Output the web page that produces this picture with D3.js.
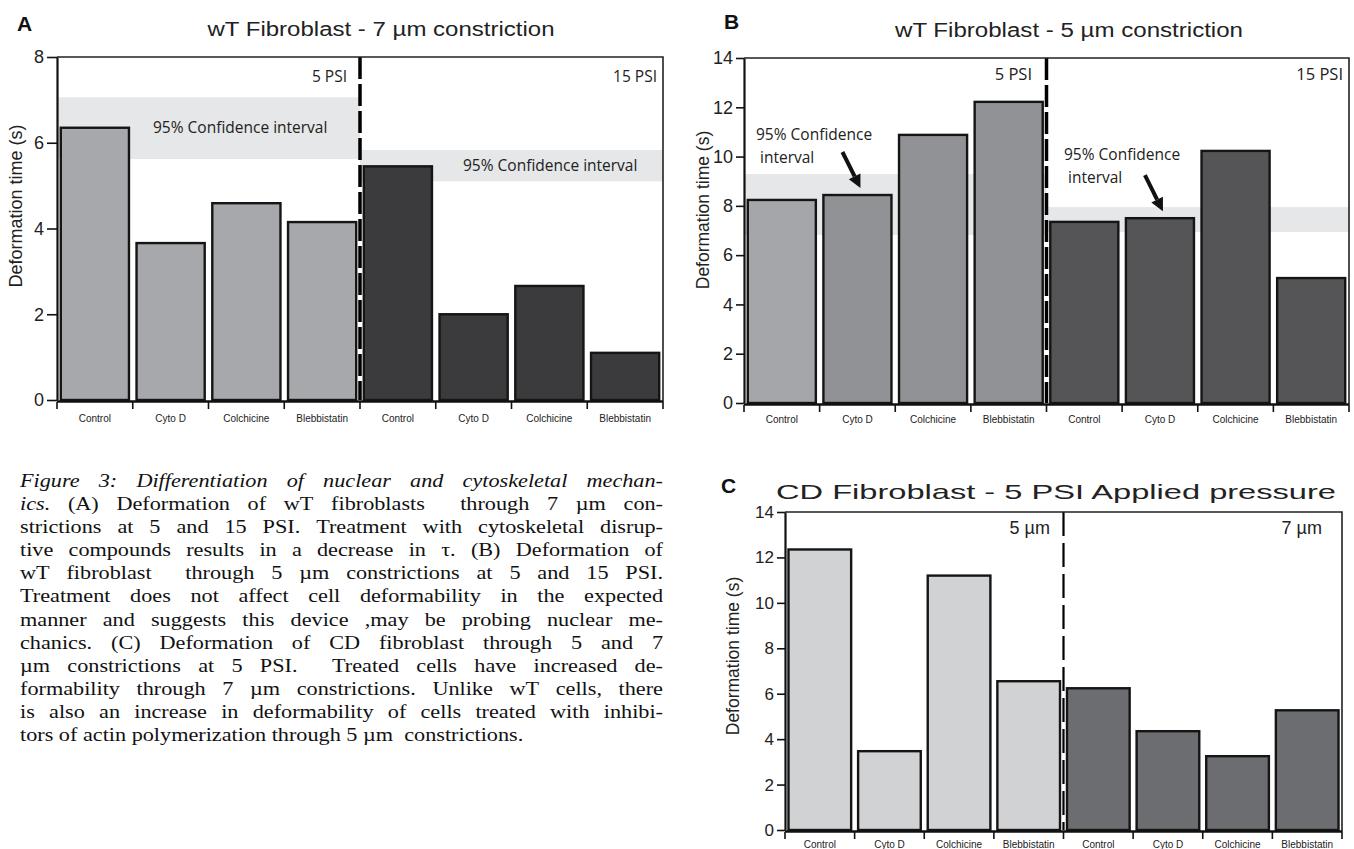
<!DOCTYPE html>
<html>
<head>
<meta charset="utf-8">
<script src="https://cdn.jsdelivr.net/npm/d3@7"></script>
<style>
  body { margin: 0; background: #fff; }
  svg { display: block; }
</style>
</head>
<body>
<svg id="fig" width="1354" height="849"></svg>
<script>
'use strict';

// ---- data ----
var categories = ['Control', 'Cyto D', 'Colchicine', 'Blebbistatin'];

var groupsA = ['5 PSI', '15 PSI'];
var valuesA5 = [6.35, 3.66, 4.59, 4.15];
var valuesA15 = [5.45, 2.0, 2.66, 1.1];
var ciA5 = [5.62, 7.06];
var ciA15 = [5.10, 5.83];
var ticksA = [0, 2, 4, 6, 8];

var groupsB = ['5 PSI', '15 PSI'];
var valuesB5 = [8.24, 8.44, 10.88, 12.22];
var valuesB15 = [7.35, 7.5, 10.23, 5.07];
var ciB5 = [6.82, 9.29];
var ciB15 = [6.94, 7.95];
var ticksB = [0, 2, 4, 6, 8, 10, 12, 14];

var groupsC = ['5 µm', '7 µm'];
var valuesC5 = [12.35, 3.47, 11.2, 6.55];
var valuesC7 = [6.24, 4.35, 3.25, 5.27];
var ticksC = [0, 2, 4, 6, 8, 10, 12, 14];

var captionLines = [
  { t: 'Figure 3: Differentiation of nuclear and cytoskeletal mechan-', it: 99 },
  { t: 'ics. (A) Deformation of wT fibroblasts  through 7 µm con-', it: 1 },
  { t: 'strictions at 5 and 15 PSI. Treatment with cytoskeletal disrup-', it: 0 },
  { t: 'tive compounds results in a decrease in τ. (B) Deformation of', it: 0 },
  { t: 'wT fibroblast  through 5 µm constrictions at 5 and 15 PSI.', it: 0 },
  { t: 'Treatment does not affect cell deformability in the expected', it: 0 },
  { t: 'manner and suggests this device ,may be probing nuclear me-', it: 0 },
  { t: 'chanics. (C) Deformation of CD fibroblast through 5 and 7', it: 0 },
  { t: 'µm constrictions at 5 PSI.  Treated cells have increased de-', it: 0 },
  { t: 'formability through 7 µm constrictions. Unlike wT cells, there', it: 0 },
  { t: 'is also an increase in deformability of cells treated with inhibi-', it: 0 },
  { t: 'tors of actin polymerization through 5 µm  constrictions.', it: 0 }
];

var SANS = '"Liberation Sans", Arial, sans-serif';
var HUMAN = '"Open Sans", "Noto Sans", sans-serif';
var SERIF = '"Liberation Serif", "Times New Roman", serif';

var svg = d3.select('#fig');

var panels = [
  {
    letter: 'A', lx: 17, ly: 31,
    title: 'wT Fibroblast - 7 µm constriction', tx: 381, ty: 36, tw: 347, ts: 20,
    left: 57, right: 663, top: 57, y0: 400, ymax: 8, ticks: ticksA, tickSize: 10, tickFont: 18,
    ylab: [16, 206], ylabSize: 18,
    groups: groupsA, values: [valuesA5, valuesA15], ci: [ciA5, ciA15],
    fill: function (g, i) { return g === 0 ? '#a7a8ab' : '#3b3b3d'; },
    groupLabelRight: [347, 657], groupLabelY: 82, groupFont: HUMAN, groupSize: 15.5,
    dash: { w: 3.5, a: '22,5' },
    notes: [
      { lines: ['95% Confidence interval'], x: 153, y: 133 },
      { lines: ['95% Confidence interval'], x: 463, y: 171 }
    ],
    arrows: [],
    labY: 22
  },
  {
    letter: 'B', lx: 724, ly: 29,
    title: 'wT Fibroblast - 5 µm constriction', tx: 1069, ty: 37, tw: 348, ts: 20,
    left: 744, right: 1349, top: 58, y0: 403, ymax: 14, ticks: ticksB, tickSize: 8, tickFont: 18,
    ylab: [703, 210], ylabSize: 17.5,
    groups: groupsB, values: [valuesB5, valuesB15], ci: [ciB5, ciB15],
    fill: function (g, i) { return g === 0 ? (i === 0 ? '#a5a6a9' : '#919295') : '#555557'; },
    groupLabelRight: [1032, 1343], groupLabelY: 80, groupFont: HUMAN, groupSize: 16.5,
    dash: { w: 3.5, a: '22,5' },
    notes: [
      { lines: ['95% Confidence', 'interval'], x: 756, y: 140 },
      { lines: ['95% Confidence', 'interval'], x: 1064, y: 160 }
    ],
    arrows: [{ g: 0, i: 1 }, { g: 1, i: 1 }],
    labY: 20
  },
  {
    letter: 'C', lx: 721, ly: 493,
    title: 'CD Fibroblast - 5 PSI Applied pressure', tx: 1056, ty: 499, tw: 560, ts: 21,
    left: 785, right: 1342, top: 512, y0: 830, ymax: 14, ticks: ticksC, tickSize: 8, tickFont: 17,
    ylab: [733, 656], ylabSize: 17.5,
    groups: groupsC, values: [valuesC5, valuesC7], ci: null,
    fill: function (g, i) { return g === 0 ? '#d1d2d4' : '#6c6d70'; },
    groupLabelRight: [1050, 1322], groupLabelY: 534, groupFont: SANS, groupSize: 18,
    dash: { w: 2.2, a: '24,7' },
    notes: [],
    arrows: [],
    labY: 18
  }
];

panels.forEach(drawPanel);
drawCaption();

function drawPanel(p) {
  var g = svg.append('g');
  var keys = [];
  var rows = [];
  p.groups.forEach(function (grp, gi) {
    categories.forEach(function (c, ci) {
      keys.push(grp + '|' + c);
      rows.push({ key: grp + '|' + c, cat: c, g: gi, i: ci, v: p.values[gi][ci] });
    });
  });

  var x = d3.scaleBand().domain(keys).range([p.left, p.right])
    .paddingInner(0.1).paddingOuter(0.05);
  var y = d3.scaleLinear().domain([0, p.ymax]).range([p.y0, p.top]);
  var edge = function (k) { return x(k) - x.step() * 0.05; };
  var groupStart = function (gi) { return edge(p.groups[gi] + '|' + categories[0]); };
  var groupEnd = function (gi) {
    return gi + 1 < p.groups.length ? groupStart(gi + 1) : p.right;
  };

  // confidence interval bands
  if (p.ci) {
    g.selectAll('rect.ci').data(p.ci).enter().append('rect')
      .attr('class', 'ci')
      .attr('x', function (d, gi) { return groupStart(gi); })
      .attr('width', function (d, gi) { return groupEnd(gi) - groupStart(gi); })
      .attr('y', function (d) { return y(d[1]); })
      .attr('height', function (d) { return y(d[0]) - y(d[1]); })
      .attr('fill', '#e6e7e8');
  }

  // bars
  g.selectAll('rect.bar').data(rows).enter().append('rect')
    .attr('class', 'bar')
    .attr('x', function (d) { return x(d.key); })
    .attr('width', x.bandwidth())
    .attr('y', function (d) { return y(d.v); })
    .attr('height', function (d) { return y(0) - y(d.v); })
    .attr('fill', function (d) { return p.fill(d.g, d.i); })
    .attr('stroke', '#151515')
    .attr('stroke-width', 2.4);

  // dashed separator
  var sep = groupStart(1);
  g.append('line')
    .attr('x1', sep).attr('x2', sep)
    .attr('y1', p.top).attr('y2', p.y0)
    .attr('stroke', '#000').attr('stroke-width', p.dash.w)
    .attr('stroke-dasharray', p.dash.a);

  // frame (top and right)
  g.append('path')
    .attr('d', 'M' + p.left + ',' + p.top + 'H' + p.right + 'V' + (p.y0 + 2))
    .attr('fill', 'none').attr('stroke', '#222').attr('stroke-width', 1.6);

  // y axis
  var ya = g.append('g').attr('transform', 'translate(' + p.left + ',0)')
    .call(d3.axisLeft(y).tickValues(p.ticks).tickSize(p.tickSize).tickSizeOuter(0).tickPadding(3));
  ya.select('.domain').attr('stroke', '#111').attr('stroke-width', 2.2);
  ya.selectAll('.tick line').attr('stroke', '#111').attr('stroke-width', 1.6);
  ya.selectAll('.tick text').attr('font-family', SANS).attr('font-size', p.tickFont)
    .attr('fill', '#222');

  // x axis: line, ticks on band edges, labels in band centres
  g.append('line')
    .attr('x1', p.left).attr('x2', p.right)
    .attr('y1', p.y0 + 1.5).attr('y2', p.y0 + 1.5)
    .attr('stroke', '#111').attr('stroke-width', 2.6);
  var edges = keys.map(edge).concat([p.right]);
  g.selectAll('line.xt').data(edges).enter().append('line')
    .attr('class', 'xt')
    .attr('x1', function (d) { return d; }).attr('x2', function (d) { return d; })
    .attr('y1', p.y0 + 2).attr('y2', p.y0 + 9)
    .attr('stroke', '#111').attr('stroke-width', 1.6);
  g.selectAll('text.xl').data(rows).enter().append('text')
    .attr('class', 'xl')
    .attr('x', function (d) { return x(d.key) + x.bandwidth() / 2; })
    .attr('y', p.y0 + p.labY)
    .attr('text-anchor', 'middle')
    .attr('font-family', SANS).attr('font-size', 10).attr('fill', '#222')
    .text(function (d) { return d.cat; });

  // y label
  g.append('text')
    .attr('transform', 'translate(' + p.ylab[0] + ',' + p.ylab[1] + ') rotate(-90)')
    .attr('text-anchor', 'middle').attr('dy', '0.35em')
    .attr('font-family', SANS).attr('font-size', p.ylabSize).attr('fill', '#222')
    .text('Deformation time (s)');

  // title + panel letter
  g.append('text').attr('x', p.tx).attr('y', p.ty).attr('text-anchor', 'middle')
    .attr('font-family', SANS).attr('font-size', p.ts).attr('fill', '#222')
    .attr('textLength', p.tw).attr('lengthAdjust', 'spacingAndGlyphs')
    .text(p.title);
  g.append('text').attr('x', p.lx).attr('y', p.ly)
    .attr('font-family', SANS).attr('font-weight', 'bold').attr('font-size', 21)
    .attr('fill', '#111').text(p.letter);

  // group labels
  p.groups.forEach(function (grp, gi) {
    g.append('text').attr('x', p.groupLabelRight[gi]).attr('y', p.groupLabelY)
      .attr('text-anchor', 'end')
      .attr('font-family', p.groupFont).attr('font-size', p.groupSize).attr('fill', '#222')
      .text(grp);
  });

  // confidence interval notes
  p.notes.forEach(function (n) {
    n.lines.forEach(function (l, li) {
      g.append('text').attr('x', n.x + (li ? 4 : 0)).attr('y', n.y + li * 23)
        .attr('font-family', HUMAN).attr('font-size', 15.5).attr('fill', '#222')
        .text(l);
    });
  });

  // arrows pointing at bars
  p.arrows.forEach(function (a) {
    var k = p.groups[a.g] + '|' + categories[a.i];
    var tipX = x(k) + x.bandwidth() / 2 + 3;
    var tipY = y(p.values[a.g][a.i]) - 7;
    var sx = tipX - 18, sy = tipY - 36;
    var ang = Math.atan2(tipY - sy, tipX - sx);
    var hl = 13, hw = 6.5;
    var bx = tipX - hl * Math.cos(ang), by = tipY - hl * Math.sin(ang);
    g.append('line').attr('x1', sx).attr('y1', sy).attr('x2', bx).attr('y2', by)
      .attr('stroke', '#111').attr('stroke-width', 4);
    g.append('path')
      .attr('d', 'M' + tipX + ',' + tipY +
        'L' + (bx + hw * Math.sin(ang)) + ',' + (by - hw * Math.cos(ang)) +
        'L' + (bx - hw * Math.sin(ang)) + ',' + (by + hw * Math.cos(ang)) + 'Z')
      .attr('fill', '#111');
  });
}

// justified caption; the source face is a bit wider than Times, so stretch x
function drawCaption() {
  var left = 20, right = 663, base = 487, lead = 23.1, size = 19.5, sx = 1.14;
  var width = (right - left) / sx;
  var cg = svg.append('g').attr('transform', 'translate(' + left + ',0) scale(' + sx + ',1)');
  captionLines.forEach(function (line, li) {
    var words = line.t.split(' ');
    var nodes = words.map(function (w, wi) {
      return cg.append('text')
        .attr('y', base + li * lead)
        .attr('font-family', SERIF).attr('font-size', size).attr('fill', '#111')
        .attr('font-style', wi < line.it ? 'italic' : 'normal')
        .text(w);
    });
    var widths = nodes.map(function (n) { return n.node().getComputedTextLength(); });
    var total = d3.sum(widths);
    var last = li === captionLines.length - 1;
    var gap = last ? size * 0.25 : (width - total) / (words.length - 1);
    var cx = 0;
    nodes.forEach(function (n, i) {
      n.attr('x', cx);
      cx += widths[i] + gap;
    });
  });
}
</script>
</body>
</html>
